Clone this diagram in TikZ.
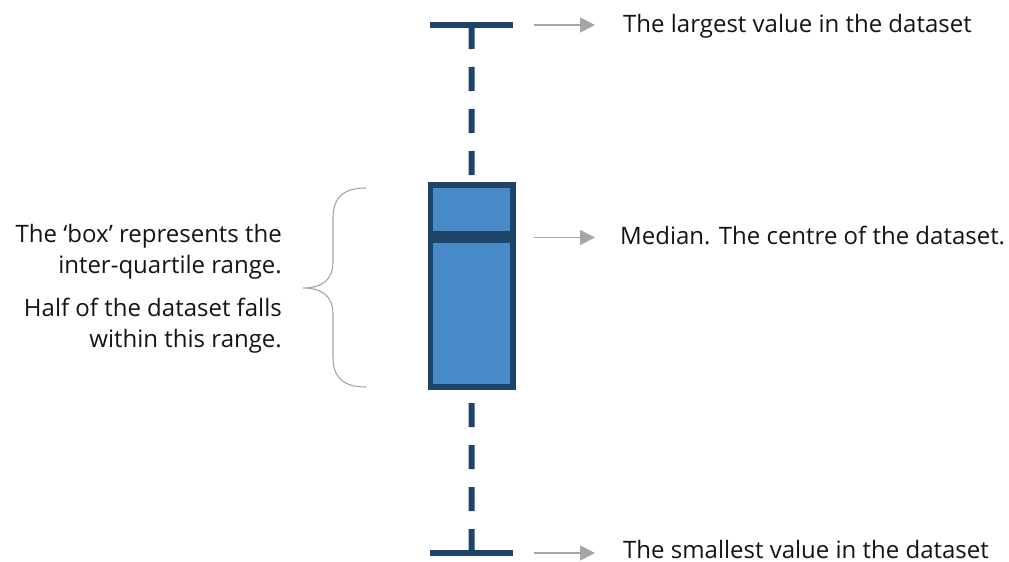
\documentclass[tikz,border=0pt]{standalone}
\usepackage{fontspec}
\setmainfont{Open Sans}
\usetikzlibrary{arrows.meta}

\definecolor{navy}{RGB}{31,68,106}
\definecolor{boxblue}{RGB}{72,137,199}
\definecolor{pointergray}{RGB}{166,166,166}
\definecolor{textblack}{RGB}{20,20,20}

\tikzset{
  iqrbox/.style={draw=navy, fill=boxblue, line width=5.7pt, rectangle,
    minimum width=82.5pt, minimum height=202pt, inner sep=0pt},
  medianline/.style={draw=navy, line width=12pt},
  whisker/.style={draw=navy, line width=6pt, dash pattern=on 24pt off 18pt},
  capline/.style={draw=navy, line width=6pt},
  pointer/.style={draw=pointergray, line width=1.5pt,
    -{Triangle[length=15pt,width=15pt]}},
  bracestyle/.style={draw=pointergray, line width=1.1pt},
  lbl/.style={font=\fontsize{24}{29}\selectfont, text=textblack, inner sep=0pt}
}

\begin{document}
\begin{tikzpicture}[x=1pt,y=-1pt]
\useasboundingbox (0,0) rectangle (1009,562);

% whisker ends
\coordinate (maxpt) at (471.5,25);
\coordinate (minpt) at (471.5,553);

% the box (inter-quartile range) and its median
\node[iqrbox] (box) at (471.75,286) {};
\coordinate (medL) at (box.west |- 0,237);
\coordinate (medR) at (box.east |- 0,237);
\draw[medianline] (medL) -- (medR);

% whiskers, dashed from each cap towards the box
\draw[whisker] (maxpt) -- (box.north);
\draw[whisker] (minpt) -- (box.south);
\draw[capline] ([xshift=-41.5pt]maxpt) -- ([xshift=41pt]maxpt);
\draw[capline] ([xshift=-41.5pt]minpt) -- ([xshift=41pt]minpt);

% labels on the right
\node[lbl, anchor=base west] (maxlbl) at (623,32) {The largest value in the dataset};
\node[lbl, anchor=base west] (medlbl) at (620,244) {Median. The centre of the dataset.};
\node[lbl, anchor=base west] (minlbl) at (623,558) {The smallest value in the dataset};

\coordinate (p1s) at (534,25);   \coordinate (p1e) at (595,25);
\coordinate (p2s) at (534,237.5);\coordinate (p2e) at (595,237.5);
\coordinate (p3s) at (534,553);  \coordinate (p3e) at (595,553);
\draw[pointer] (p1s) -- (p1e);
\draw[pointer] (p2s) -- (p2e);
\draw[pointer] (p3s) -- (p3e);

% curly brace spanning the box
\coordinate (brtop) at (366,188);
\coordinate (brtip) at (303,288);
\coordinate (brbot) at (366,387);
\draw[bracestyle] (brtop) .. controls (345,188) and (333,196) .. (333,218)
  -- (333,262) .. controls (333,280) and (322,288) .. (brtip)
  .. controls (322,288) and (333,296) .. (333,314)
  -- (333,357) .. controls (333,379) and (345,387) .. (brbot);

% labels on the left
\node[lbl, anchor=base east] (iqr1) at (282,242) {The ‘box’ represents the};
\node[lbl, anchor=base east] (iqr2) at (282,273) {inter-quartile range.};
\node[lbl, anchor=base east] (half1) at (282,316) {Half of the dataset falls};
\node[lbl, anchor=base east] (half2) at (282,347) {within this range.};
\end{tikzpicture}
\end{document}
